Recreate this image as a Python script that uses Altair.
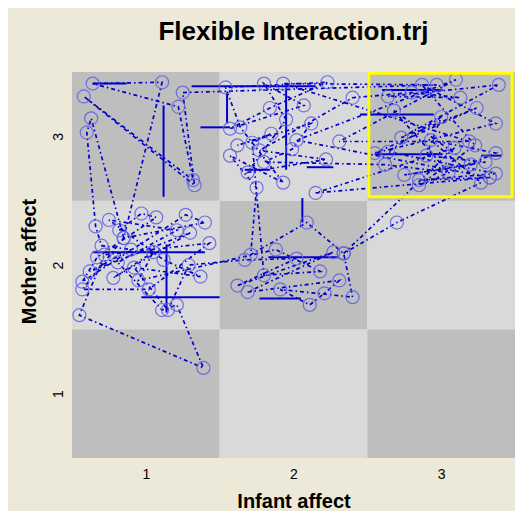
import altair as alt
import pandas as pd

title_text = "Flexible Interaction.trj"
x_title = "Infant affect"
y_title = "Mother affect"
levels = [1, 2, 3]

# state-space grid cells
cell_x = [1, 2, 3, 1, 2, 3, 1, 2, 3]
cell_y = [1, 1, 1, 2, 2, 2, 3, 3, 3]
cell_shade = ["dark", "light", "dark", "light", "dark", "light", "dark", "light", "dark"]

highlight_x = [3]
highlight_y = [3]

# trajectory (infant affect, mother affect) in visiting order
traj_x = [0.82, 0.97, 1.07, 0.67, 0.57, 1.27, 1.40, 0.85, 0.57, 1.02, 1.43, 0.72,
          0.55, 1.39, 1.21, 1.11, 0.81, 1.21, 0.75, 1.12, 1.37, 0.92, 1.15, 1.29,
          1.67, 2.02, 1.62, 2.27, 1.69, 2.31, 2.21, 2.11, 1.91, 2.40, 2.34, 2.09,
          1.71, 1.75, 1.57, 1.93, 1.64, 1.54, 2.23, 1.84, 1.57, 2.07, 1.80, 1.95,
          1.69, 2.22, 1.77, 2.40, 2.80, 3.13, 2.64, 3.39, 2.73, 3.24, 2.55, 3.37,
          2.87, 3.23, 2.85, 3.37, 2.93, 3.27, 2.70, 2.34, 3.09, 2.15, 3.33, 2.02,
          3.10, 2.31, 3.19, 1.93, 2.97, 1.25, 1.33, 0.58, 1.32, 1.22, 0.64, 1.11,
          0.85, 0.63, 0.60, 0.66, 0.70, 0.90, 0.62, 1.30, 0.78, 1.05, 0.95, 1.88,
          2.18, 1.80, 1.72, 1.85, 1.62, 2.12, 1.99, 1.80, 2.62, 3.05, 2.68, 3.20,
          2.75, 3.30, 2.90, 3.00, 2.64, 3.37, 2.85, 3.33]
traj_y = [2.27, 2.40, 2.37, 2.06, 1.87, 2.39, 2.33, 2.21, 1.81, 1.81, 2.17, 2.08,
          1.61, 1.20, 1.69, 1.65, 2.02, 2.27, 2.35, 2.04, 1.91, 1.98, 1.65, 2.00,
          2.04, 2.05, 1.84, 2.10, 1.79, 1.88, 1.78, 1.69, 1.81, 1.75, 2.09, 2.33,
          2.08, 2.60, 2.85, 2.64, 3.07, 3.38, 3.42, 3.22, 3.06, 3.24, 3.41, 3.13,
          2.72, 2.82, 2.89, 3.30, 3.34, 3.30, 3.31, 3.40, 2.99, 3.22, 2.87, 3.10,
          3.40, 2.93, 2.62, 2.87, 2.97, 2.64, 2.33, 2.09, 2.91, 2.56, 2.68, 2.97,
          3.44, 2.96, 2.96, 3.41, 3.40, 3.34, 2.62, 3.31, 2.66, 3.23, 3.41, 3.42,
          2.21, 3.14, 3.03, 2.30, 2.15, 2.12, 1.95, 2.25, 1.90, 2.10, 1.88, 2.12,
          1.95, 1.92, 2.95, 3.02, 2.93, 3.10, 2.90, 2.80, 2.78, 2.72, 3.20, 2.78,
          2.70, 2.80, 2.85, 3.15, 2.88, 2.71, 2.66, 2.68]

# solid duration segments
seg_x = [0.64, 1.12, 1.31, 1.55, 1.95, 1.67, 2.09, 1.37, 2.60, 2.55, 3.27, 2.45, 0.97, 1.14, 0.64, 1.77, 1.83, 2.06]
seg_x2 = [0.87, 1.12, 2.15, 1.55, 1.95, 1.84, 2.27, 1.57, 3.01, 3.01, 3.41, 2.95, 1.50, 1.14, 1.40, 2.05, 2.31, 2.06]
seg_y = [3.41, 3.24, 3.39, 3.34, 3.38, 2.74, 2.76, 3.07, 3.36, 2.86, 2.85, 3.17, 1.75, 2.16, 2.10, 1.74, 2.06, 2.52]
seg_y2 = [3.41, 2.53, 3.39, 3.10, 2.74, 2.74, 2.76, 3.07, 3.36, 2.86, 2.85, 3.17, 1.75, 1.63, 2.10, 1.74, 2.06, 2.33]

cells = pd.DataFrame({"cx": cell_x, "cy": cell_y, "shade": cell_shade})
cells["x0"] = cells["cx"] - 0.5
cells["x1"] = cells["cx"] + 0.5
cells["y0"] = cells["cy"] - 0.5
cells["y1"] = cells["cy"] + 0.5

hl = pd.DataFrame({"hx": highlight_x, "hy": highlight_y})
hl["x0"] = hl["hx"] - 0.49
hl["x1"] = hl["hx"] + 0.48
hl["y0"] = hl["hy"] - 0.47
hl["y1"] = hl["hy"] + 0.49

traj = pd.DataFrame({"i": range(len(traj_x)), "x": traj_x, "y": traj_y})
segs = pd.DataFrame({"x": seg_x, "x2": seg_x2, "y": seg_y, "y2": seg_y2})

xs = alt.Scale(domain=[0.5, 3.5], nice=False, zero=False)
ys = alt.Scale(domain=[0.5, 3.5], nice=False, zero=False)

x_axis = alt.Axis(values=levels, format="d", title=x_title, labelPadding=9,
                  labelFontSize=14, titleFontSize=20, titleFontWeight="bold",
                  titleY=49, titleBaseline="alphabetic")
y_axis = alt.Axis(values=levels, format="d", title=y_title, labelAngle=270,
                  labelAlign="center", labelBaseline="bottom", labelPadding=7,
                  labelFontSize=14, titleFontSize=20, titleFontWeight="bold",
                  titleAngle=270, titleX=-33, titleY=189, titleAlign="center",
                  titleBaseline="bottom")

base_cells = alt.Chart(cells).mark_rect().encode(
    x=alt.X("x0:Q", scale=xs, axis=x_axis),
    x2="x1:Q",
    y=alt.Y("y0:Q", scale=ys, axis=y_axis),
    y2="y1:Q",
    color=alt.Color("shade:N", scale=alt.Scale(domain=["dark", "light"],
                                               range=["#BEBEBE", "#D9D9D9"]), legend=None),
)

highlight = alt.Chart(hl).mark_rect(fillOpacity=0, stroke="#FFFF00", strokeWidth=3).encode(
    x="x0:Q", x2="x1:Q", y="y0:Q", y2="y1:Q"
)

lines = alt.Chart(traj).mark_line(color="#0000CC", strokeWidth=1.7,
                                  strokeDash=[4, 3, 1.5, 3]).encode(
    x="x:Q", y="y:Q", order="i:Q"
)

rules = alt.Chart(segs).mark_rule(color="#0000CC", strokeWidth=2).encode(
    x="x:Q", x2="x2:Q", y="y:Q", y2="y2:Q"
)

points = alt.Chart(traj).mark_point(shape="circle", size=170, color="#6060E0",
                                    strokeWidth=1.2, opacity=0.85).encode(
    x="x:Q", y="y:Q"
)

chart = alt.layer(base_cells, lines, rules, points, highlight).properties(
    width=443,
    height=386,
    title=alt.TitleParams(title_text, fontSize=26, fontWeight="bold", anchor="middle",
                          baseline="alphabetic", offset=5, font="Liberation Sans",
                          color="black"),
    autosize=alt.AutoSizeParams(type="none"),
    padding={"left": 64, "top": 64, "right": 0, "bottom": 53},
    background="#ECE9D8",
).configure_view(stroke=None).configure_axis(
    domain=False, ticks=False, grid=False, labelFont="Liberation Sans",
    titleFont="Liberation Sans", labelColor="black", titleColor="black",
)

chart.save("out.html", embed_options={"renderer": "svg", "actions": False})
